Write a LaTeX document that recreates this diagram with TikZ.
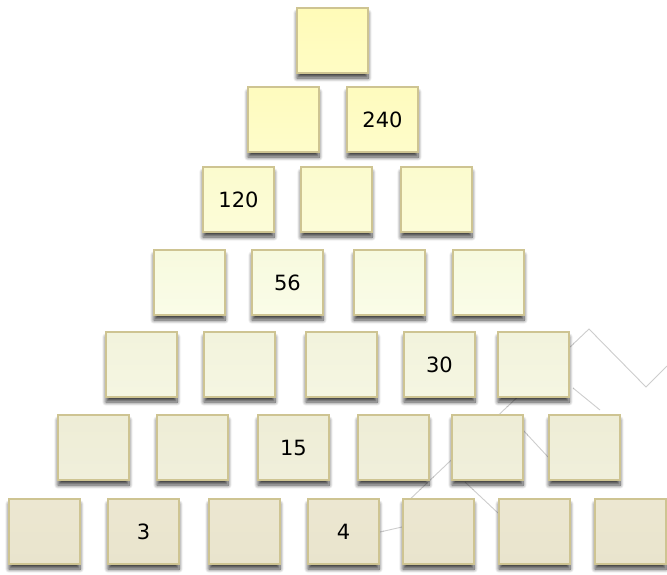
\documentclass[tikz,border=0pt]{standalone}
\usepackage{fontspec}
\setmainfont{DejaVu Sans}
\usetikzlibrary{shadows.blur}
\definecolor{edgec}{RGB}{206,196,146}
\definecolor{t1}{RGB}{255,251,184}\definecolor{u1}{RGB}{255,252,196}
\definecolor{t2}{RGB}{254,251,190}\definecolor{u2}{RGB}{254,252,202}
\definecolor{t3}{RGB}{251,251,206}\definecolor{u3}{RGB}{252,252,216}
\definecolor{t4}{RGB}{247,250,222}\definecolor{u4}{RGB}{250,252,232}
\definecolor{t5}{RGB}{242,243,220}\definecolor{u5}{RGB}{245,246,226}
\definecolor{t6}{RGB}{238,237,214}\definecolor{u6}{RGB}{240,239,219}
\definecolor{t7}{RGB}{236,231,209}\definecolor{u7}{RGB}{233,228,205}
\definecolor{wm}{RGB}{205,205,205}
\tikzset{
  cell/.style={rectangle, draw=edgec, line width=1.7pt, minimum width=71pt, minimum height=65pt,
    inner sep=0pt,
    blur shadow={shadow xshift=0pt, shadow yshift=-5pt, shadow blur steps=8, shadow blur radius=4pt, shadow opacity=75}},
  wmline/.style={draw=wm, line width=0.9pt},
  lbl/.style={font=\fontsize{21}{21}\selectfont}
}
\begin{document}
\begin{tikzpicture}[x=1pt,y=-1pt]
\useasboundingbox (0,0) rectangle (667,574);
% faint background watermark lines
\draw[wmline] (405,504) -- (589,329) -- (646,387) -- (667,366);
\draw[wmline] (465,482) -- (498,513);
\draw[wmline] (523,430) -- (548,457);
\draw[wmline] (573,388) -- (600,410);
\draw[wmline] (380,532) -- (402,527);
% boxes
\foreach \r/\y/\xs in {1/8/{297},2/87/{248,347},3/167/{203,301,401},4/250/{154,252,354,453},
   5/332/{106,204,306,404,498},6/415/{58,157,258,358,452,549},7/499/{9,108,209,308,403,499,595}}{
  \foreach \x [count=\c] in \xs {
    \node[cell, top color=t\r, bottom color=u\r] (b-\r-\c) at (\x+35.5,\y+32.5) {};
  }
}
\node[lbl] at (b-2-2) {240};
\node[lbl] at (b-3-1) {120};
\node[lbl] at (b-4-2) {56};
\node[lbl] at (b-5-4) {30};
\node[lbl] at (b-6-3) {15};
\node[lbl] at (b-7-2) {3};
\node[lbl] at (b-7-4) {4};
\end{tikzpicture}
\end{document}
